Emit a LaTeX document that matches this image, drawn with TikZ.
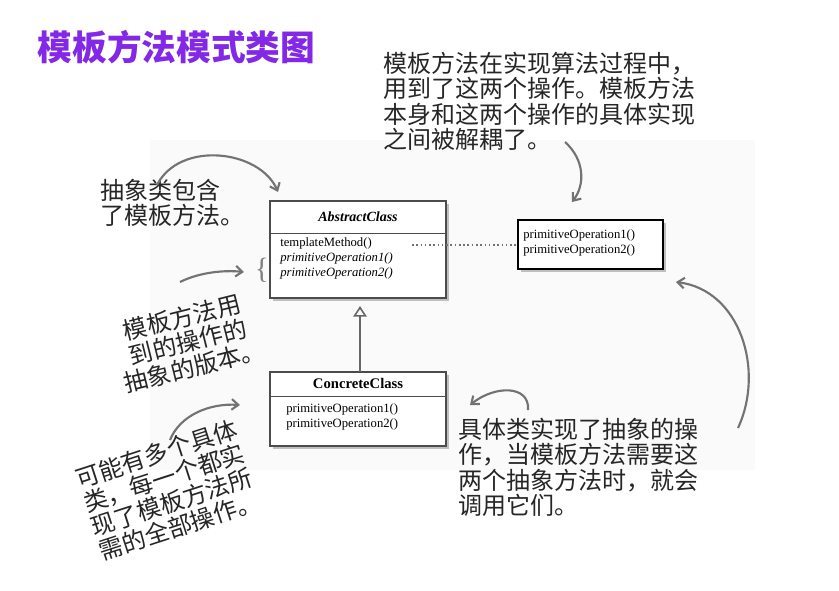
\documentclass[tikz,border=0pt]{standalone}
\usepackage{fontspec}
\setmainfont{Liberation Serif}
\newfontfamily\cjk{Noto Sans CJK SC}
\usetikzlibrary{arrows.meta}
\begin{document}
\begin{tikzpicture}[x=0.75pt,y=-0.75pt,
  note/.style={font=\cjk\fontsize{18}{19}\selectfont,text=black!85,align=left,inner sep=0pt,anchor=north west},
  curv/.style={draw=black!55,line width=1.6pt,-{Straight Barb[length=5pt,width=8pt]}},
  umlbox/.style={draw=black!70,line width=0.8pt,fill=white},
  mtxt/.style={font=\fontsize{9.5}{11.5}\selectfont,align=left,inner sep=0pt,anchor=north west}]
\useasboundingbox (0,0) rectangle (839,590);
\fill[white] (0,0) rectangle (839,590);
\fill[black!2] (150,140) rectangle (755,470);
\node[anchor=west,font=\cjk\bfseries\fontsize{26}{28}\selectfont,text={rgb,255:red,130;green,40;blue,230}] (title) at (33,47) {模板方法模式类图};
% boxes
\fill[black!25] (273,204) rectangle (449,301);
\draw[umlbox] (270,201) rectangle (446,298);
\draw[black!70] (270,233) -- (446,233);
\node[font=\bfseries\itshape\fontsize{10.5}{12}\selectfont] (ac) at (358,217) {AbstractClass};
\node[mtxt] (acm) at (280,237) {templateMethod()\\\itshape primitiveOperation1()\\\itshape primitiveOperation2()};
\coordinate (acr) at (412,245);
\fill[black!25] (273,375) rectangle (449,449);
\draw[umlbox] (270,372) rectangle (446,446);
\draw[black!70] (270,396) -- (446,396);
\node[font=\bfseries\fontsize{11}{12}\selectfont] (cc) at (358,383) {ConcreteClass};
\node[mtxt] (ccm) at (286,403) {primitiveOperation1()\\primitiveOperation2()};
\fill[black!25] (521,223) rectangle (666,272);
\draw[fill=white,line width=1.2pt] (518,220) rectangle (663,269);
\node[mtxt] (rb) at (523,229) {primitiveOperation1()\\primitiveOperation2()};
\coordinate (rbl) at (518,245);
\draw[black!55,dotted,line width=1.2pt] (acr) -- (rbl);
\coordinate (cctop) at (360,372);
\coordinate (actop) at (360,306);
\draw[black!60,line width=1.2pt,-{Triangle[open,length=8pt,width=10pt]}] (cctop) -- (actop);
% notes
\node[note] (n1) at (383,52) {模板方法在实现算法过程中，\\用到了这两个操作。模板方法\\本身和这两个操作的具体实现\\之间被解耦了。};
\node[note] (n2) at (100,179) {抽象类包含\\了模板方法。};
\node[note,anchor=center,align=center,rotate=14] (n3) at (188,342) {模板方法用\\到的操作的\\抽象的版本。};
\node[note,anchor=center,align=center,rotate=18] (n4) at (168,490) {可能有多个具体\\类，每一个都实\\现了模板方法所\\需的全部操作。};
\node[note] (n5) at (458,418) {具体类实现了抽象的操\\作，当模板方法需要这\\两个抽象方法时，就会\\调用它们。};
% curved arrows
\coordinate (a1s) at (157,185); \coordinate (a1e) at (278,192);
\draw[curv] (a1s) .. controls (180,140) and (260,150) .. (a1e);
\coordinate (a2s) at (180,282); \coordinate (a2e) at (244,272);
\draw[curv] (a2s) .. controls (200,272) and (225,270) .. (a2e);
\node[font=\fontsize{22}{22}\selectfont,text=black!50] (br) at (262,270) {\{};
\coordinate (a3s) at (565,142); \coordinate (a3e) at (572,202);
\draw[curv] (a3s) .. controls (585,160) and (585,185) .. (a3e);
\coordinate (a4s) at (738,428); \coordinate (a4e) at (676,282);
\draw[curv] (a4s) .. controls (765,370) and (740,290) .. (a4e);
\coordinate (a5s) at (528,410); \coordinate (a5e) at (470,405);
\draw[curv] (a5s) .. controls (530,385) and (495,385) .. (a5e);
\coordinate (a6s) at (170,440); \coordinate (a6e) at (240,405);
\draw[curv] (a6s) .. controls (180,415) and (210,403) .. (a6e);
\end{tikzpicture}
\end{document}
